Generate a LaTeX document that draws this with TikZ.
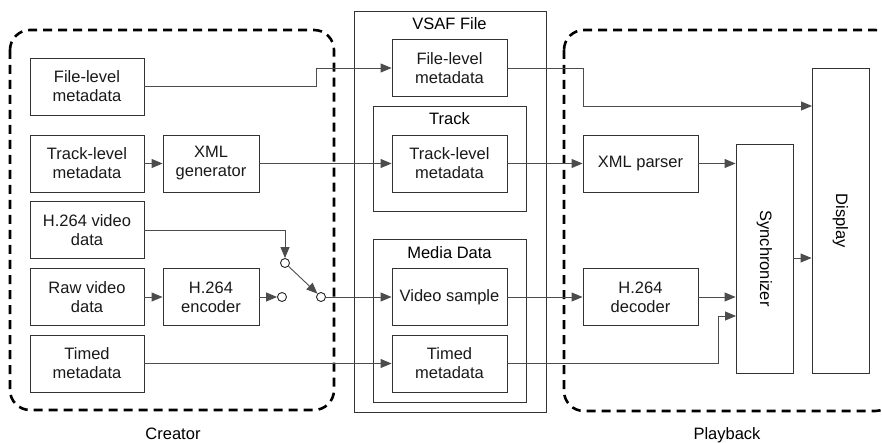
\documentclass[tikz,border=0pt]{standalone}
\usepackage{fontspec}
\setmainfont{Liberation Sans}
\usetikzlibrary{arrows.meta,calc}
\begin{document}
\begin{tikzpicture}[x=1pt,y=-1pt,
  font=\fontsize{16.5}{19}\selectfont,
  box/.style={draw=black!80,line width=0.9pt,align=center,inner sep=0pt,text=black!90},
  bw/.style={box,minimum width=114pt,minimum height=57pt},
  cont/.style={draw=black!80,line width=0.9pt},
  conn/.style={draw=black!70,line width=0.9pt},
  arr/.style={conn,-{Triangle[length=11pt,width=9pt]}},
  grp/.style={draw=black,line width=2.6pt,dash pattern=on 9pt off 6pt,rounded corners=20pt},
  sw/.style={circle,draw=black!85,fill=white,line width=0.9pt,minimum size=9pt,inner sep=0pt}]
\useasboundingbox (0,0) rectangle (882,443);
\begin{scope}
\clip (0,0) rectangle (882,443);
% group boxes
\draw[grp] (10,30) rectangle (334,410);
\draw[grp] (564,30) rectangle (895,411);
\end{scope}
\node[anchor=base,inner sep=0pt] (creator) at (173,439) {Creator};
\node[anchor=base,inner sep=0pt] (playback) at (727,439) {Playback};
% creator nodes
\node[bw] (fl) at (87,86.5) {File-level\\metadata};
\node[bw] (tl) at (87,163.5) {Track-level\\metadata};
\node[bw] (hv) at (87,230) {H.264 video\\data};
\node[bw] (rv) at (87,297) {Raw video\\data};
\node[bw] (tm) at (87,363.5) {Timed\\metadata};
\node[box,minimum width=96pt,minimum height=57pt] (xg) at (211,163.5) {XML\\generator};
\node[box,minimum width=96pt,minimum height=57pt] (enc) at (211,297) {H.264\\encoder};
% VSAF containers
\draw[cont] (354,11) rectangle (546,412);
\node (vsaf) at (449.5,24) {VSAF File};
\draw[cont] (373,106) rectangle (526,211);
\node (track) at (449.5,119) {Track};
\draw[cont] (373,239) rectangle (526,402);
\node (media) at (449.5,253) {Media Data};
\node[bw,minimum width=115pt] (vfl) at (449.5,68) {File-level\\metadata};
\node[bw,minimum width=115pt] (vtl) at (449.5,163.5) {Track-level\\metadata};
\node[bw,minimum width=115pt] (vs) at (449.5,297) {Video sample};
\node[bw,minimum width=115pt] (vtm) at (449.5,363.5) {Timed\\metadata};
% playback nodes
\node[bw,minimum width=115pt] (xp) at (640.5,163.5) {XML parser};
\node[bw,minimum width=115pt] (dec) at (640.5,297) {H.264\\decoder};
\node[box,minimum width=57pt,minimum height=229pt] (sync) at (764.5,258.5) {};
\node[rotate=-90] (synct) at (sync.center) {Synchronizer};
\node[box,minimum width=57pt,minimum height=305pt] (disp) at (840.5,220.5) {};
\node[rotate=-90] (dispt) at (disp.center) {Display};
% switch
\node[sw] (c1) at (282,297) {};
\node[sw] (c2) at (285,263) {};
\node[sw] (c3) at (321,297) {};
\coordinate (d1) at (812,106);
\coordinate (s3) at (736,316);
% connectors
\draw[arr] (fl.east) -- (316,86.5) |- (vfl.west);
\draw[arr] (vfl.east) -- (583,68) |- (d1);
\draw[arr] (tl.east) -- (xg.west);
\draw[arr] (xg.east) -- (vtl.west);
\draw[arr] (vtl.east) -- (xp.west);
\draw[arr] (xp.east) -- (sync.west |- xp.east);
\draw[arr] (rv.east) -- (enc.west);
\draw[arr] (enc.east) -- (c1.west);
\draw[arr] (hv.east) -| (c2.north);
\draw[arr] (c2) -- (c3);
\draw[arr] (c3.east) -- (vs.west);
\draw[arr] (vs.east) -- (dec.west);
\draw[arr] (dec.east) -- (sync.west |- dec.east);
\draw[arr] (tm.east) -- (vtm.west);
\draw[arr] (vtm.east) -- (718,363.5) |- (s3);
\draw[arr] (sync.east |- 0,258) -- (disp.west |- 0,258);
\end{tikzpicture}
\end{document}
